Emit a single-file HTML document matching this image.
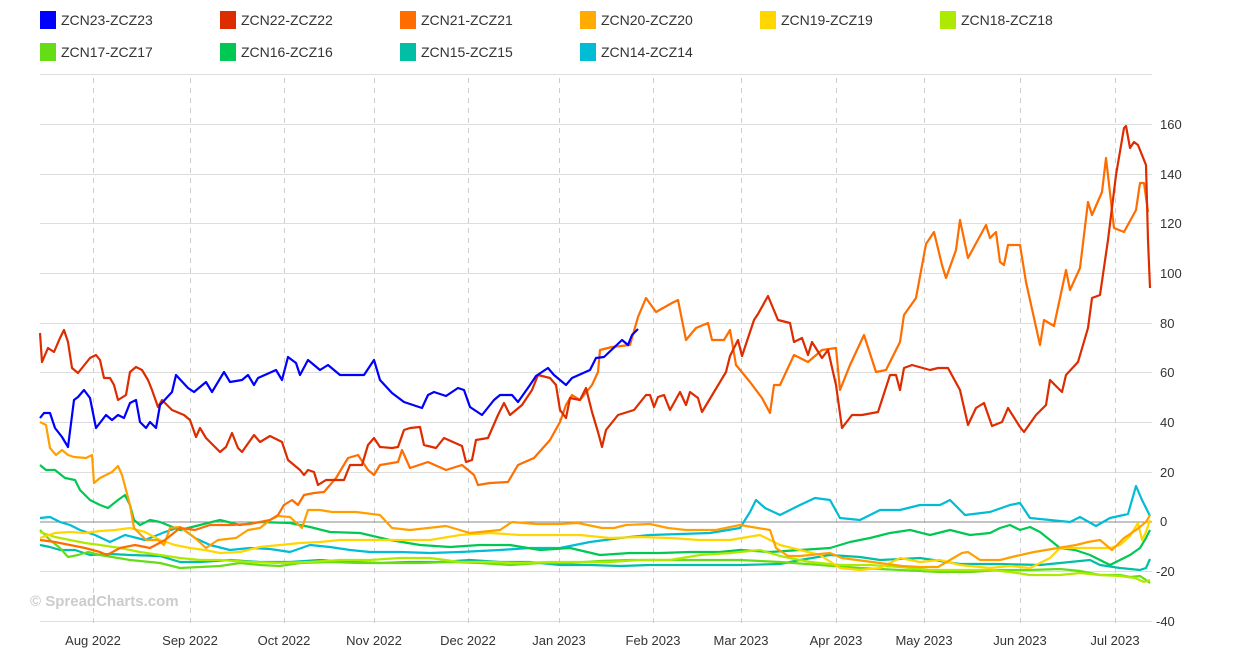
<!DOCTYPE html>
<html><head><meta charset="utf-8"><style>
body{margin:0;background:#fff;width:1234px;height:659px;overflow:hidden;font-family:"Liberation Sans",sans-serif}
svg{position:absolute;left:0;top:0}
text{font-family:"Liberation Sans",sans-serif;font-size:13px;fill:#333}
.lg text{font-size:14px}
</style></head><body>
<svg width="1234" height="659" viewBox="0 0 1234 659">
<g stroke="#ddd" stroke-width="1">
<line x1="40" y1="74.5" x2="1152" y2="74.5"/><line x1="40" y1="124.5" x2="1152" y2="124.5"/><line x1="40" y1="174.5" x2="1152" y2="174.5"/><line x1="40" y1="223.5" x2="1152" y2="223.5"/><line x1="40" y1="273.5" x2="1152" y2="273.5"/><line x1="40" y1="323.5" x2="1152" y2="323.5"/><line x1="40" y1="372.5" x2="1152" y2="372.5"/><line x1="40" y1="422.5" x2="1152" y2="422.5"/><line x1="40" y1="472.5" x2="1152" y2="472.5"/><line x1="40" y1="571.5" x2="1152" y2="571.5"/><line x1="40" y1="621.5" x2="1152" y2="621.5"/>
</g>
<g stroke="#ccc" stroke-dasharray="5,5">
<line x1="93.5" y1="78" x2="93.5" y2="627"/><line x1="190.5" y1="78" x2="190.5" y2="627"/><line x1="284.5" y1="78" x2="284.5" y2="627"/><line x1="374.5" y1="78" x2="374.5" y2="627"/><line x1="468.5" y1="78" x2="468.5" y2="627"/><line x1="559.5" y1="78" x2="559.5" y2="627"/><line x1="653.5" y1="78" x2="653.5" y2="627"/><line x1="741.5" y1="78" x2="741.5" y2="627"/><line x1="836.5" y1="78" x2="836.5" y2="627"/><line x1="924.5" y1="78" x2="924.5" y2="627"/><line x1="1020.5" y1="78" x2="1020.5" y2="627"/><line x1="1115.5" y1="78" x2="1115.5" y2="627"/>
</g>
<line x1="40" y1="522" x2="1152" y2="522" stroke="#888" stroke-width="1"/>
<text x="30" y="606" style="font-size:15px;font-weight:bold;fill:#ccc">© SpreadCharts.com</text>
<g fill="none" stroke-width="2.2" stroke-linejoin="round">
<polyline stroke="#00bcd4" points="40,518 50,517 60,522 70,525 80,530 95,535 110,542 125,535 145,540 165,532 180,527 195,538 210,545 230,550 250,548 270,549 290,552 310,545 330,547 350,550 370,552 400,552 430,553 460,552 500,550 530,548 560,548 590,542 620,538 650,535 680,534 710,533 740,528 750,512 756,500 765,508 780,515 800,505 815,498 830,500 840,518 860,520 880,510 900,510 920,505 940,505 950,500 965,515 990,512 1010,505 1020,503 1030,518 1050,520 1070,522 1080,517 1096,526 1110,518 1128,514 1136,486 1142,500 1150,516"/>
<polyline stroke="#00bfa5" points="40,545 50,547 60,550 75,550 90,555 110,554 130,555 160,556 180,562 200,562 230,560 260,562 290,562 320,560 350,562 380,563 410,562 440,562 470,560 500,562 530,562 560,565 590,565 620,566 650,565 680,565 710,565 740,565 780,564 800,560 830,555 860,557 880,560 920,558 960,564 1000,564 1040,565 1070,562 1090,560 1100,565 1120,568 1140,570 1146,568 1150,559"/>
<polyline stroke="#00c853" points="40,465 46,470 55,470 65,478 75,480 80,490 90,500 100,505 108,508 118,500 125,495 130,505 134,520 140,525 150,520 160,522 180,530 200,525 220,520 240,525 260,522 290,523 310,527 330,532 360,533 390,540 420,545 450,547 480,545 510,545 540,550 570,548 600,555 630,553 660,553 690,552 720,552 740,550 770,552 800,550 830,548 850,542 870,538 890,533 910,530 930,535 950,530 970,535 990,533 1000,528 1010,525 1020,530 1030,527 1040,532 1050,540 1060,548 1075,550 1090,555 1100,560 1110,565 1120,560 1130,555 1140,548 1146,538 1150,530"/>
<polyline stroke="#64dd17" points="40,530 50,540 60,548 68,557 78,555 88,552 100,555 112,557 130,560 160,563 180,568 200,567 220,566 240,563 260,565 280,566 300,563 330,562 360,563 390,563 420,563 450,562 480,563 510,565 540,563 570,563 600,561 630,560 660,560 700,560 740,560 780,562 820,565 860,568 900,570 940,572 970,572 1000,570 1030,570 1060,569 1080,571 1100,575 1120,575 1130,577 1140,576 1146,580 1150,583"/>
<polyline stroke="#aeea00" points="40,532 55,537 70,540 85,543 100,545 120,548 140,552 160,555 180,558 200,560 220,560 250,562 280,563 310,562 340,560 370,560 400,558 430,558 460,562 490,562 520,563 550,562 580,562 610,562 640,560 670,560 700,555 730,553 760,550 780,556 810,562 840,565 870,565 900,567 930,570 960,570 990,570 1010,572 1030,575 1060,575 1080,573 1100,575 1120,576 1135,578 1144,582 1150,580"/>
<polyline stroke="#ffd600" points="40,538 55,533 70,532 85,533 100,531 115,530 130,528 145,532 160,540 175,545 190,548 205,550 220,553 240,552 260,547 280,545 300,543 320,542 340,540 370,540 400,540 430,540 460,535 490,533 520,535 550,535 580,535 610,538 640,537 670,538 700,540 730,540 760,535 780,545 800,550 820,555 840,568 860,570 880,568 900,558 920,562 940,560 960,565 990,568 1010,566 1030,568 1050,558 1060,548 1075,548 1090,548 1100,548 1110,548 1120,545 1130,536 1138,523 1142,540 1146,532 1150,520"/>
<polyline stroke="#ffa000" points="40,422 46,425 50,448 56,455 62,450 68,455 74,457 86,458 92,455 94,483 100,478 112,472 118,466 122,475 126,490 130,505 134,528 146,540 158,540 164,545 170,528 180,527 194,537 206,548 218,540 236,538 248,530 260,528 270,520 278,516 290,517 302,528 308,510 320,510 332,512 356,512 380,515 392,528 410,530 446,526 470,533 500,530 512,522 536,524 560,524 578,523 602,528 614,528 626,525 650,524 668,528 686,530 716,530 740,525 770,530 776,548 788,556 800,556 830,553 842,558 872,562 902,566 920,567 938,567 950,560 962,553 968,552 980,560 1000,560 1016,556 1034,552 1058,548 1076,545 1088,542 1100,540 1112,550 1124,538 1136,530 1146,522 1150,515"/>
<polyline stroke="#ff6d00" points="40,540 55,542 70,545 85,548 100,552 107,555 120,548 135,545 150,548 165,540 180,528 195,530 210,525 230,525 250,524 270,520 278,515 284,505 292,500 298,505 304,495 314,493 324,492 336,478 348,458 358,455 368,470 374,475 380,465 398,462 402,450 410,468 428,462 446,470 462,465 474,475 478,485 490,483 508,482 518,465 534,458 550,440 560,422 566,405 572,395 580,400 592,385 598,372 600,350 612,347 630,345 638,317 646,298 656,312 672,303 678,300 686,340 696,328 708,323 712,340 724,340 730,330 736,365 750,382 762,398 770,413 774,385 780,385 794,355 808,362 822,350 836,348 840,390 850,365 864,335 876,372 886,370 900,342 904,315 916,298 926,244 934,232 942,265 946,278 956,250 960,220 968,258 986,225 990,238 996,232 1000,262 1004,265 1008,245 1020,245 1026,282 1040,345 1044,320 1054,326 1066,270 1070,290 1080,268 1088,202 1092,215 1102,192 1106,158 1114,228 1124,232 1136,210 1140,183 1144,183 1148,212"/>
<polyline stroke="#dd2c00" points="40,333 42,362 48,348 54,352 60,338 64,330 68,342 72,368 78,373 90,358 96,355 100,360 104,378 110,378 114,385 118,400 126,395 130,372 136,367 142,370 148,380 152,390 158,407 162,400 172,410 184,415 190,420 196,437 200,428 206,438 220,452 226,447 232,433 238,448 242,452 254,435 260,442 270,436 282,442 288,460 300,470 304,475 308,470 314,472 318,485 326,480 344,480 350,465 362,465 368,445 374,438 380,447 392,448 398,447 404,430 410,428 420,427 424,445 436,448 444,438 462,446 466,462 472,460 476,440 488,438 498,415 504,403 510,415 522,405 532,390 538,375 550,378 556,385 560,410 566,418 570,398 580,400 586,388 592,412 598,432 602,447 606,430 618,415 634,410 646,395 650,395 654,407 658,397 664,395 670,410 680,392 686,405 690,392 698,398 702,412 714,392 726,372 730,356 738,340 742,356 754,320 758,314 768,296 778,320 790,323 794,342 802,338 808,355 812,342 822,358 828,350 836,385 842,428 852,415 862,415 878,412 890,375 896,375 900,390 904,368 912,365 930,370 938,368 948,368 960,390 968,425 976,408 984,403 992,426 1002,422 1008,408 1020,427 1024,432 1036,415 1046,405 1050,380 1062,392 1066,375 1078,362 1088,328 1092,298 1100,295 1108,240 1116,175 1124,128 1126,126 1130,148 1134,142 1138,145 1146,165 1148,240 1150,288"/>
<polyline stroke="#0000ff" points="40,418 44,413 50,413 55,428 62,437 68,447 74,400 78,397 84,390 90,398 96,428 106,415 112,420 118,415 124,418 130,403 136,400 140,422 146,428 150,422 156,428 160,405 172,392 176,375 188,388 194,392 206,382 212,392 224,372 230,382 242,380 248,375 254,385 258,378 276,370 282,380 288,357 296,363 300,375 308,360 320,370 328,365 340,375 364,375 374,360 380,380 392,393 404,402 422,408 428,395 434,392 446,396 458,388 464,390 470,407 482,415 494,400 500,395 512,395 518,402 530,385 536,376 548,368 554,375 566,385 572,378 590,370 596,358 604,357 622,340 628,345 632,335 638,329"/>
</g>
<g text-anchor="start">
<text x="1160" y="129">160</text><text x="1160" y="179">140</text><text x="1160" y="228">120</text><text x="1160" y="278">100</text><text x="1160" y="328">80</text><text x="1160" y="377">60</text><text x="1160" y="427">40</text><text x="1160" y="477">20</text><text x="1160" y="526">0</text><text x="1156" y="576">-20</text><text x="1156" y="626">-40</text>
</g>
<g text-anchor="middle">
<text x="93" y="645">Aug 2022</text><text x="190" y="645">Sep 2022</text><text x="284" y="645">Oct 2022</text><text x="374" y="645">Nov 2022</text><text x="468" y="645">Dec 2022</text><text x="559" y="645">Jan 2023</text><text x="653" y="645">Feb 2023</text><text x="741" y="645">Mar 2023</text><text x="836" y="645">Apr 2023</text><text x="924" y="645">May 2023</text><text x="1020" y="645">Jun 2023</text><text x="1115" y="645">Jul 2023</text>
</g>
<g class="lg">
<rect x="40" y="11" width="16" height="18" fill="#0000ff"/><text x="61" y="25">ZCN23-ZCZ23</text>
<rect x="220" y="11" width="16" height="18" fill="#dd2c00"/><text x="241" y="25">ZCN22-ZCZ22</text>
<rect x="400" y="11" width="16" height="18" fill="#ff6d00"/><text x="421" y="25">ZCN21-ZCZ21</text>
<rect x="580" y="11" width="16" height="18" fill="#ffab00"/><text x="601" y="25">ZCN20-ZCZ20</text>
<rect x="760" y="11" width="16" height="18" fill="#ffd600"/><text x="781" y="25">ZCN19-ZCZ19</text>
<rect x="940" y="11" width="16" height="18" fill="#aeea00"/><text x="961" y="25">ZCN18-ZCZ18</text>
<rect x="40" y="43" width="16" height="18" fill="#64dd17"/><text x="61" y="57">ZCN17-ZCZ17</text>
<rect x="220" y="43" width="16" height="18" fill="#00c853"/><text x="241" y="57">ZCN16-ZCZ16</text>
<rect x="400" y="43" width="16" height="18" fill="#00bfa5"/><text x="421" y="57">ZCN15-ZCZ15</text>
<rect x="580" y="43" width="16" height="18" fill="#00bcd4"/><text x="601" y="57">ZCN14-ZCZ14</text>
</g>
</svg>
</body></html>
